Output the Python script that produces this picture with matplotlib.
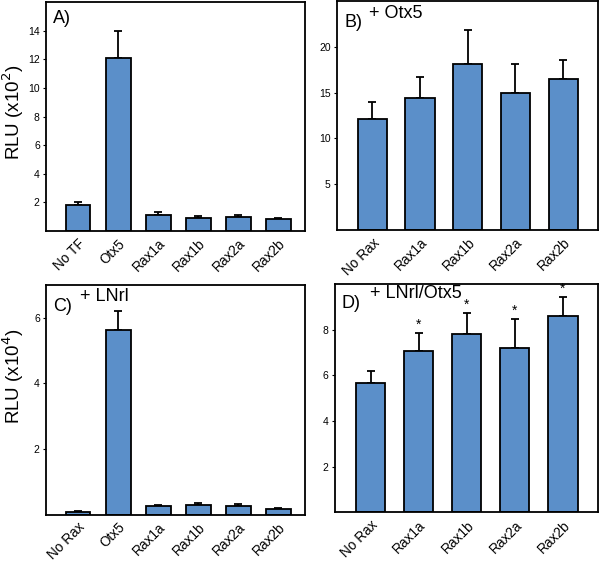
import matplotlib

matplotlib.use("Agg")
import matplotlib.pyplot as plt
import numpy as np

plt.rcParams["font.family"] = ["Liberation Sans", "DejaVu Sans"]

BAR_COLOR = "#5b8fc9"

# panel A: no Otx5
labels_a = ["No TF", "Otx5", "Rax1a", "Rax1b", "Rax2a", "Rax2b"]
values_a = [1.8, 12.1, 1.1, 0.88, 1.0, 0.82]
upper_a = [2.0, 14.0, 1.3, 1.05, 1.12, 0.92]

# panel B: + Otx5
labels_b = ["No Rax", "Rax1a", "Rax1b", "Rax2a", "Rax2b"]
values_b = [12.1, 14.4, 18.1, 15.0, 16.5]
upper_b = [14.0, 16.7, 21.9, 18.1, 18.6]

# panel C: + LNrl
labels_c = ["No Rax", "Otx5", "Rax1a", "Rax1b", "Rax2a", "Rax2b"]
values_c = [0.08, 5.62, 0.25, 0.28, 0.26, 0.16]
upper_c = [0.1, 6.2, 0.3, 0.35, 0.31, 0.2]

# panel D: + LNrl/Otx5
labels_d = ["No Rax", "Rax1a", "Rax1b", "Rax2a", "Rax2b"]
values_d = [5.65, 7.05, 7.8, 7.2, 8.6]
upper_d = [6.2, 7.85, 8.75, 8.45, 9.45]
signif_d = [False, True, True, True, True]


def draw_panel(ax, labels, values, upper, ylim, yticks, xlim, width):
    x = np.arange(len(labels))
    values = np.array(values)
    err = np.array(upper) - values
    ax.bar(x, values, width=width, color=BAR_COLOR, edgecolor="black", linewidth=1.3, zorder=2)
    ax.errorbar(
        x, values, yerr=[np.zeros_like(err), err], fmt="none",
        ecolor="black", elinewidth=1.3, capsize=3, capthick=1.3, zorder=1,
    )
    ax.set_xlim(*xlim)
    ax.set_ylim(*ylim)
    ax.set_yticks(yticks)
    ax.set_yticklabels([str(t) for t in yticks], family=["Liberation Sans Narrow", "Liberation Sans"])
    ax.set_xticks(x)
    ax.set_xticklabels(labels, rotation=45, ha="right", rotation_mode="anchor", fontsize=9.8)
    ax.tick_params(axis="x", length=0, pad=4)
    ax.tick_params(axis="y", length=2.5, width=0.8, labelsize=7.5, pad=2)
    for spine in ax.spines.values():
        spine.set_linewidth(1.3)


fig = plt.figure(figsize=(6.0, 5.63), dpi=100)

ax_a = fig.add_axes([0.0767, 0.5897, 0.432, 0.4067])
draw_panel(ax_a, labels_a, values_a, upper_a, (0, 16), [2, 4, 6, 8, 10, 12, 14], (-0.8, 5.67), 0.62)
ax_a.text(0.027, 0.965, "A)", transform=ax_a.transAxes, fontsize=13, va="top", ha="left")

ax_b = fig.add_axes([0.5617, 0.5915, 0.435, 0.4065])
draw_panel(ax_b, labels_b, values_b, upper_b, (0, 25), [5, 10, 15, 20], (-0.74, 4.73), 0.61)
ax_b.text(0.027, 0.945, "B)", transform=ax_b.transAxes, fontsize=13, va="top", ha="left")
ax_b.text(0.123, 0.985, "+ Otx5", transform=ax_b.transAxes, fontsize=13, va="top", ha="left")

ax_c = fig.add_axes([0.0767, 0.0861, 0.432, 0.4077])
draw_panel(ax_c, labels_c, values_c, upper_c, (0, 7), [2, 4, 6], (-0.8, 5.67), 0.62)
ax_c.text(0.027, 0.945, "C)", transform=ax_c.transAxes, fontsize=13, va="top", ha="left")
ax_c.text(0.131, 0.985, "+ LNrl", transform=ax_c.transAxes, fontsize=13, va="top", ha="left")

ax_d = fig.add_axes([0.5583, 0.0897, 0.4384, 0.4059])
draw_panel(ax_d, labels_d, values_d, upper_d, (0, 10), [2, 4, 6, 8], (-0.74, 4.73), 0.61)
ax_d.text(0.025, 0.95, "D)", transform=ax_d.transAxes, fontsize=13, va="top", ha="left")
ax_d.text(0.133, 0.995, "+ LNrl/Otx5", transform=ax_d.transAxes, fontsize=13, va="top", ha="left")
for i, (top, star) in enumerate(zip(upper_d, signif_d)):
    if star:
        ax_d.text(i, top + 0.05, "*", ha="center", va="bottom", fontsize=10)

# y labels placed in figure pixels
fig.text(13 / 600, 1 - 112 / 563, "RLU (x10$^2$)", rotation=90, ha="center", va="center", fontsize=13.5)
fig.text(13 / 600, 1 - 376 / 563, "RLU (x10$^4$)", rotation=90, ha="center", va="center", fontsize=13.5)

fig.savefig("out.png", dpi=100)
